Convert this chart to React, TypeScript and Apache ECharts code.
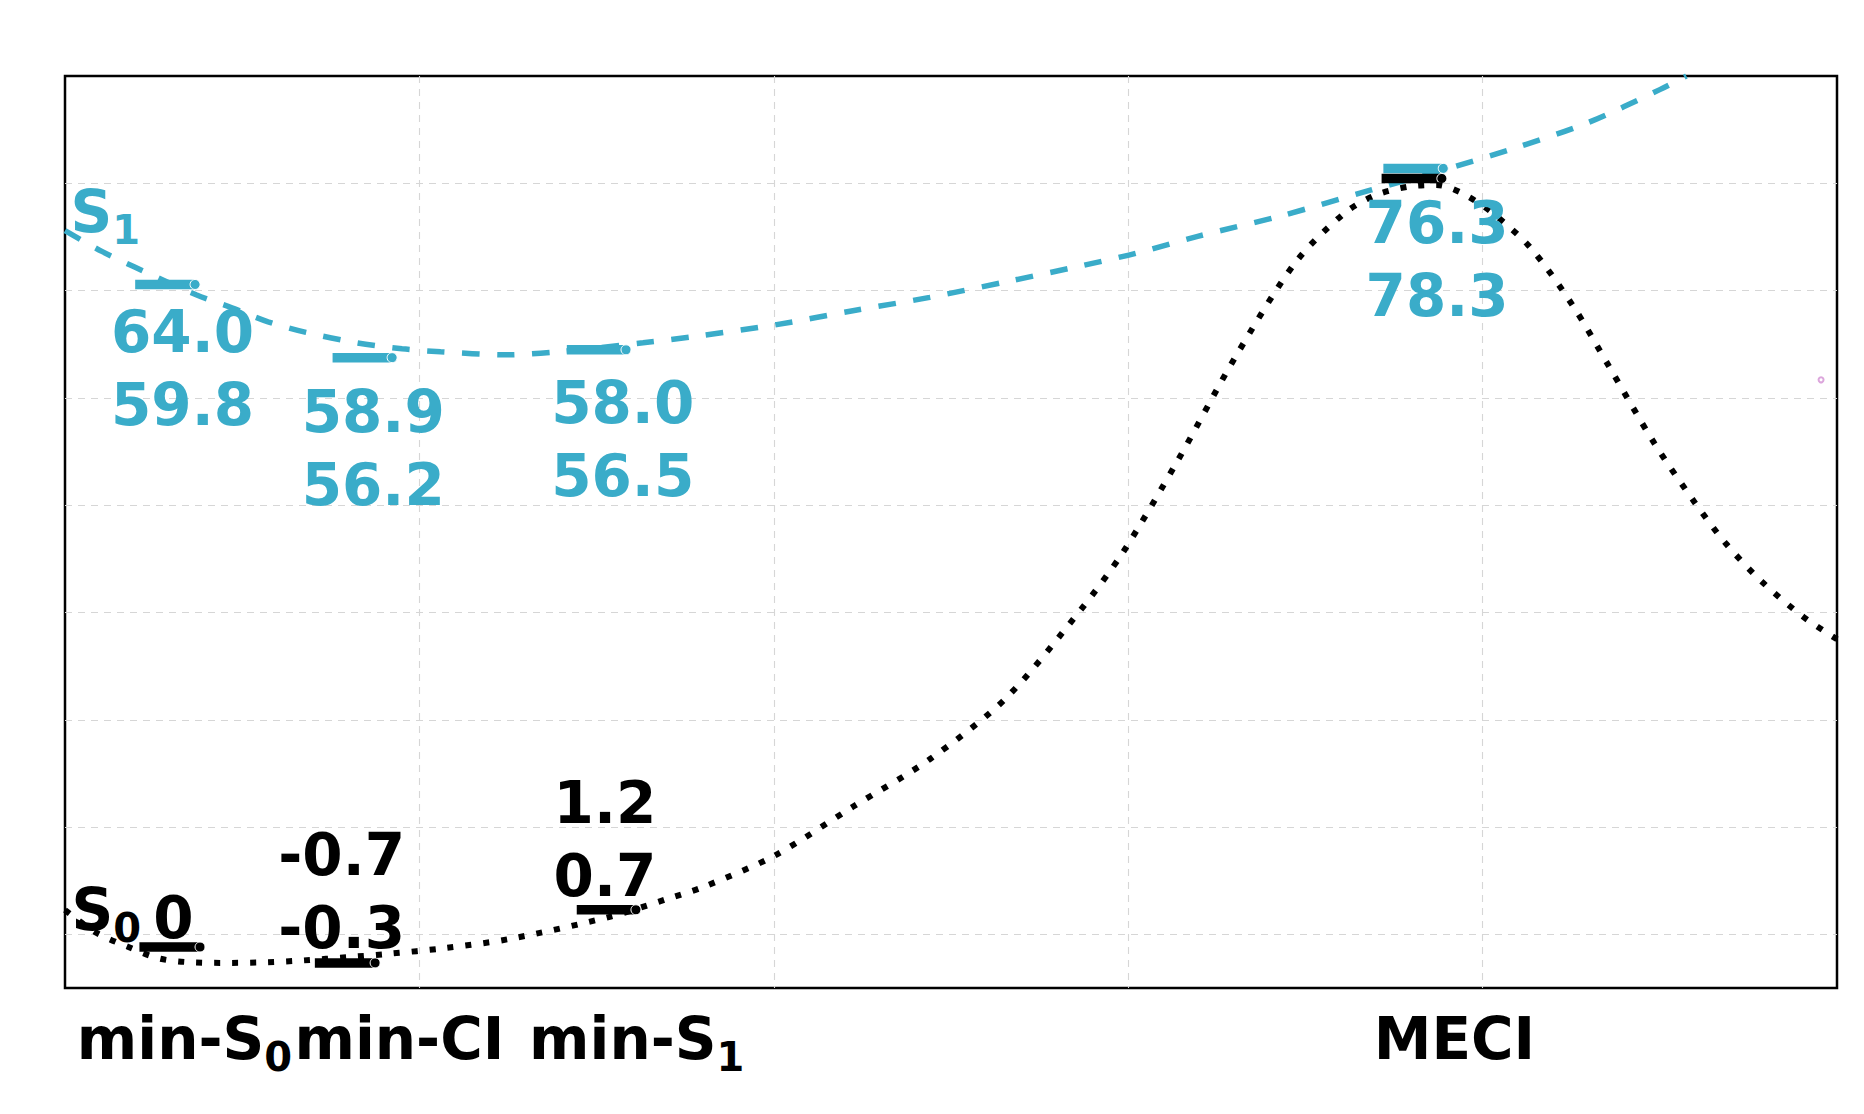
import React, { useEffect, useRef } from 'react';
import * as echarts from 'echarts';

// ---------- data ----------
const CYAN = '#3aacc9';
const BLACK = '#000000';
const FONT = 'DejaVu Sans';

// S1 potential energy curve (dashed, cyan)
const S1_CURVE_X = [0, 0.104, 0.195, 0.37, 0.471, 0.573, 0.68, 0.824, 0.951, 1.06, 1.239, 1.391, 1.631, 1.769, 2.008, 2.223, 2.44, 2.655, 2.872, 3.022, 3.196, 3.433, 3.688, 3.891, 4.094, 4.297, 4.5, 4.575];
const S1_CURVE_Y = [65.58, 63.65, 62.22, 59.61, 58.4, 57.09, 56.1, 55.13, 54.57, 54.3, 54.01, 54.29, 55.13, 55.69, 56.83, 58.12, 59.37, 60.82, 62.34, 63.48, 65.06, 66.98, 69.4, 71.27, 73.32, 75.65, 78.73, 80.0];

// S0 potential energy curve (dotted, black)
const S0_CURVE_X = [0, 0.085, 0.179, 0.268, 0.367, 0.47, 0.569, 0.672, 0.8, 0.917, 1.067, 1.256, 1.54, 1.702, 1.8, 2.0, 2.223, 2.44, 2.655, 2.866, 2.985, 3.141, 3.304, 3.474, 3.612, 3.701, 3.795, 3.87, 3.941, 4.026, 4.136, 4.255, 4.357, 4.484, 4.597, 4.687, 4.789, 4.906, 5.0];
const S0_CURVE_Y = [2.27, 0.21, -1.18, -2.27, -2.62, -2.66, -2.6, -2.43, -2.12, -1.8, -1.3, -0.42, 1.66, 3.33, 4.4, 7.3, 11.89, 16.32, 22.01, 30.25, 35.6, 44.23, 53.9, 62.71, 67.26, 68.93, 69.71, 69.85, 69.09, 67.29, 63.96, 58.58, 52.92, 45.8, 40.33, 36.4, 32.84, 29.57, 27.5];

// level bars at each structure: min-S0, min-CI, min-S1, MECI
const S1_BAR_X0 = [0.198, 0.755, 1.416, 3.72];
const S1_BAR_X1 = [0.367, 0.923, 1.583, 3.889];
const S1_BAR_Y = [60.57, 53.75, 54.48, 71.39];
const S0_BAR_X0 = [0.21, 0.705, 1.444, 3.715];
const S0_BAR_X1 = [0.381, 0.875, 1.611, 3.885];
const S0_BAR_Y = [-1.18, -2.66, 2.29, 70.45];

// energy value annotations
const S1_VALUE_TEXT = ['64.0\n59.8', '58.9\n56.2', '58.0\n56.5', '76.3\n78.3'];
const S1_VALUE_X = [0.333, 0.871, 1.575, 3.873];
const S1_VALUE_Y = [58.12, 50.75, 51.59, 68.31];
const S0_VALUE_TEXT = ['0', '-0.7\n-0.3', '1.2\n0.7'];
const S0_VALUE_X = [0.307, 0.782, 1.525];
const S0_VALUE_Y = [3.54, 9.45, 14.27];

// state names
const STATE_MAIN = ['S', 'S'];
const STATE_SUB = ['1', '0'];
const STATE_X = [0.017, 0.02];
const STATE_Y = [69.34, 4.26];

// structure labels below the axis
const CATEGORY_MAIN = ['min-S', 'min-CI', 'min-S', 'MECI'];
const CATEGORY_SUB = ['0', '', '1', ''];
const CATEGORY_X = [0.3386, 0.945, 1.6146, 3.922];

const STRAY_POINT = [4.955, 51.68];

// ---------- styling constants ----------
const VALUE_FONT = 58;
const VALUE_LINE = 73;
const CAP_PLAIN = VALUE_LINE / 2 - 0.383 * VALUE_FONT;
const RICH_LINE = 80;
const CAP_RICH = RICH_LINE / 2 - 0.383 * VALUE_FONT;
const SUB_FONT = 40;
const SUB_DROP = 36;
const CATEGORY_CAP_BELOW_AXIS = 29;

const richStyles = (color: string) => ({
  m: { fontSize: VALUE_FONT, fontWeight: 'bold', fontFamily: FONT, color, lineHeight: RICH_LINE, opacity: 1 },
  s: { fontSize: SUB_FONT, fontWeight: 'bold', fontFamily: FONT, color, lineHeight: SUB_FONT, padding: [SUB_DROP, 0, 0, 0], opacity: 1 },
});

const richText = (main: string, sub: string) => (sub ? `{m|${main}}{s|${sub}}` : `{m|${main}}`);

function textSeries(items: { x: number; y: number; text: string; color: string; align: string; rich: boolean; dy?: number }[]) {
  return {
    type: 'scatter',
    silent: true,
    clip: false,
    symbolSize: 1,
    itemStyle: { color: 'rgba(0,0,0,0)', opacity: 1 },
    z: 10,
    data: items.map((it) => ({
      value: [it.x, it.y],
      label: {
        show: true,
        formatter: it.text,
        position: [0, 0],
        align: it.align,
        verticalAlign: 'top',
        offset: [0, (it.dy || 0) - (it.rich ? CAP_RICH : CAP_PLAIN)],
        color: it.color,
        opacity: 1,
        fontSize: VALUE_FONT,
        fontWeight: 'bold',
        fontFamily: FONT,
        lineHeight: it.rich ? RICH_LINE : VALUE_LINE,
        rich: it.rich ? richStyles(it.color) : undefined,
      },
    })),
  };
}

function barSeries(x0s: number[], x1s: number[], ys: number[], color: string) {
  return x0s.map((x0, i) => ({
    type: 'line',
    silent: true,
    z: 4,
    symbol: 'circle',
    symbolSize: 10,
    showSymbol: true,
    lineStyle: { color, width: 9.5, cap: 'butt' },
    itemStyle: { color, borderColor: '#ffffff', borderWidth: 1, opacity: 1 },
    data: [
      { value: [x0, ys[i]], symbol: 'none' },
      { value: [x1s[i], ys[i]], symbol: 'circle', symbolSize: 10 },
    ],
  }));
}

const splitStyle = { color: '#d6d6d6', width: 1.1, type: [7, 6] };

export default function App() {
  const ref = useRef<HTMLDivElement>(null);
  useEffect(() => {
    document.body.style.margin = '0';
    document.body.style.overflow = 'hidden';
    if (!ref.current) return;
    const chart = echarts.init(ref.current, null, { renderer: 'svg' });

    const valueItems = [
      ...S1_VALUE_TEXT.map((t, i) => ({ x: S1_VALUE_X[i], y: S1_VALUE_Y[i], text: t, color: CYAN, align: 'center', rich: false })),
      ...S0_VALUE_TEXT.map((t, i) => ({ x: S0_VALUE_X[i], y: S0_VALUE_Y[i], text: t, color: BLACK, align: 'center', rich: false })),
    ];
    const stateItems = STATE_MAIN.map((m, i) => ({
      x: STATE_X[i], y: STATE_Y[i], text: richText(m, STATE_SUB[i]), color: i === 0 ? CYAN : BLACK, align: 'left', rich: true,
    }));
    const categoryItems = CATEGORY_MAIN.map((m, i) => ({
      x: CATEGORY_X[i], y: -5, text: richText(m, CATEGORY_SUB[i]), color: BLACK, align: 'center', rich: true, dy: CATEGORY_CAP_BELOW_AXIS,
    }));

    const option: any = {
      animation: false,
      backgroundColor: '#ffffff',
      grid: {
        left: 65, right: 27, top: 76, bottom: 126,
        show: true, borderColor: '#000000', borderWidth: 2.5, backgroundColor: 'rgba(0,0,0,0)',
        containLabel: false, outerBoundsMode: 'none',
      },
      xAxis: {
        type: 'value', min: 0, max: 5, interval: 1,
        axisLine: { show: false }, axisTick: { show: false }, axisLabel: { show: false },
        splitLine: { show: true, showMinLine: false, showMaxLine: false, lineStyle: splitStyle },
      },
      yAxis: {
        type: 'value', min: -5, max: 80, splitNumber: 8,
        axisLine: { show: false }, axisTick: { show: false }, axisLabel: { show: false },
        splitLine: { show: true, showMinLine: false, showMaxLine: false, lineStyle: splitStyle },
      },
      series: [
        {
          type: 'line', name: 'S1', silent: true, z: 3, smooth: 0.3, symbol: 'none', clip: true,
          lineStyle: { color: CYAN, width: 5.5, type: [17.5, 17.5], cap: 'butt' },
          data: S1_CURVE_X.map((x, i) => [x, S1_CURVE_Y[i]]),
        },
        {
          type: 'line', name: 'S0', silent: true, z: 5, smooth: 0.3, symbol: 'none', clip: true,
          lineStyle: { color: BLACK, width: 6, type: [6, 12], cap: 'butt' },
          data: S0_CURVE_X.map((x, i) => [x, S0_CURVE_Y[i]]),
        },
        ...barSeries(S1_BAR_X0, S1_BAR_X1, S1_BAR_Y, CYAN),
        ...barSeries(S0_BAR_X0, S0_BAR_X1, S0_BAR_Y, BLACK),
        textSeries(valueItems),
        textSeries(stateItems),
        textSeries(categoryItems),
        {
          type: 'scatter', silent: true, symbol: 'emptyCircle', symbolSize: 5, z: 6,
          itemStyle: { color: '#dca6dc', borderWidth: 1, opacity: 1 },
          data: [STRAY_POINT],
        },
      ],
    };
    chart.setOption(option);
    return () => chart.dispose();
  }, []);
  return <div ref={ref} style={{ position: 'fixed', left: 0, top: 0, width: 1864, height: 1114 }} />;
}
